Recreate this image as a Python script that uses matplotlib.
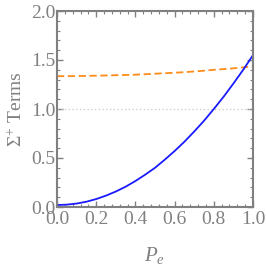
import matplotlib
matplotlib.use("Agg")
import matplotlib.pyplot as plt
from matplotlib.ticker import MultipleLocator

plt.rcParams['font.family'] = ['Liberation Serif', 'DejaVu Serif']
plt.rcParams['mathtext.fontset'] = 'custom'
plt.rcParams['mathtext.it'] = 'Liberation Serif:italic'
plt.rcParams['mathtext.rm'] = 'Liberation Serif'

pe = [0.0, 0.05, 0.1, 0.15, 0.2, 0.25, 0.3, 0.35, 0.4, 0.45, 0.5,
      0.55, 0.6, 0.65, 0.7, 0.75, 0.8, 0.85, 0.9, 0.95, 1.0]
blue_vals = [0.02, 0.024, 0.035, 0.054, 0.081, 0.116, 0.158, 0.207, 0.265, 0.33, 0.40,
             0.483, 0.571, 0.666, 0.77, 0.88, 1.0, 1.125, 1.26, 1.40, 1.55]
orange_vals = [1.335, 1.335, 1.336, 1.338, 1.34, 1.342, 1.345, 1.347, 1.35, 1.355, 1.36,
               1.365, 1.37, 1.376, 1.383, 1.391, 1.40, 1.407, 1.415, 1.425, 1.435]
ref_level = 1.0
xticks = [0.0, 0.2, 0.4, 0.6, 0.8, 1.0]
yticks = [0.0, 0.5, 1.0, 1.5, 2.0]

gray = '#808080'
fig = plt.figure(figsize=(2.66, 2.65), dpi=100)
ax = fig.add_axes([57/266, 1-207/265, 196/266, 196/265])

ax.axhline(ref_level, color='#c8c8c8', lw=0.9, ls=(0, (1, 2)))
ax.plot(pe, orange_vals, color='#ff8c1a', lw=1.3, ls=(0, (4, 2)))
ax.plot(pe, blue_vals, color='#1a1aff', lw=1.3)

ax.set_xlim(0, 1)
ax.set_ylim(0, 2)
ax.set_xticks(xticks)
ax.set_yticks(yticks)
ax.set_xticklabels([f"{t:.1f}" for t in xticks])
ax.set_yticklabels([f"{t:.1f}" for t in yticks])
ax.xaxis.set_minor_locator(MultipleLocator(0.04))
ax.yaxis.set_minor_locator(MultipleLocator(0.1))
ax.tick_params(which='both', direction='in', top=True, right=True, color=gray,
               labelcolor=gray, labelsize=14)
ax.tick_params(which='major', length=4, width=1)
ax.tick_params(which='minor', length=2, width=0.8)
ax.tick_params(axis='x', pad=3)
ax.tick_params(axis='y', pad=1)
for s in ax.spines.values():
    s.set_color(gray)
    s.set_linewidth(1.5)

ax.set_xlabel(r'$P_e$', color=gray, fontsize=15, labelpad=12)
ax.set_ylabel(r'$\Sigma^{+}$ Terms', color=gray, fontsize=14, labelpad=4)

fig.savefig('out.png', dpi=100)
